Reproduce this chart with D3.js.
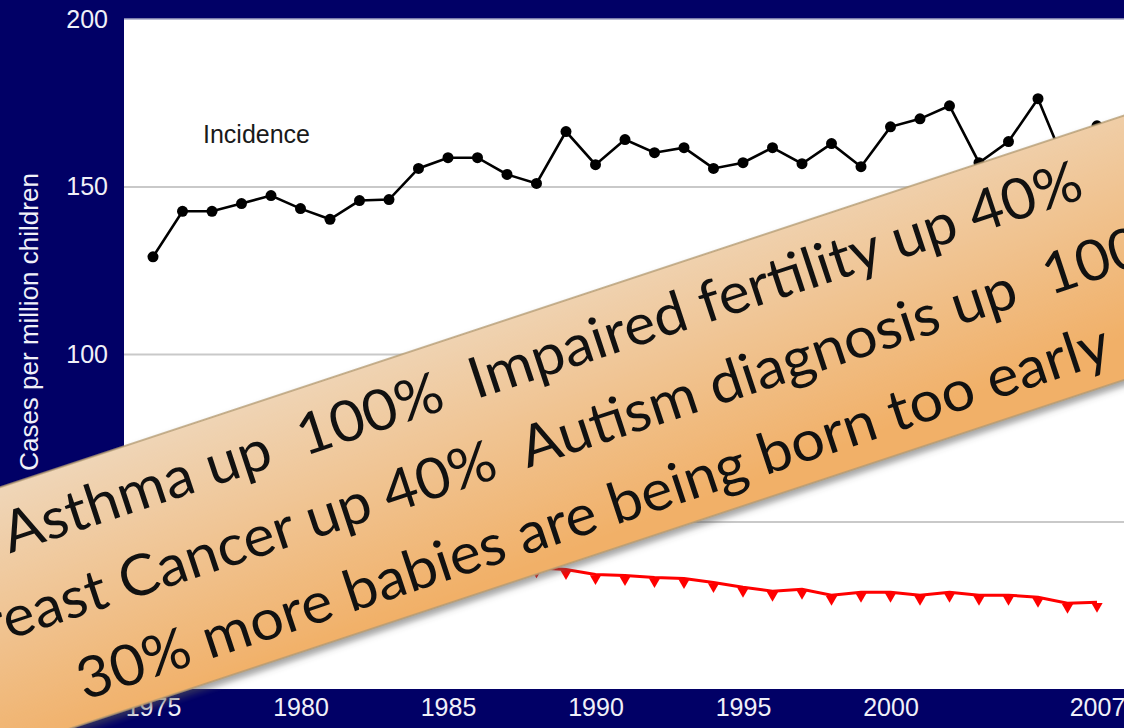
<!DOCTYPE html>
<html>
<head>
<meta charset="utf-8">
<script src="https://cdn.jsdelivr.net/npm/d3@7"></script>
<style>
    html, body { margin: 0; padding: 0; background: #010066; overflow: hidden; }
    svg { display: block; }
    .axis text { font-family: "Liberation Sans", Arial, sans-serif; fill: #f0f0f8; }
    .axis path, .axis line { display: none; }
    .grid line { stroke: #c9c9c9; stroke-width: 2; }
    .grid path { display: none; }
    .banner text { font-family: Lato, "Open Sans", sans-serif; fill: #111; white-space: pre; }
</style>
</head>
<body>
<svg class="chart" width="1124" height="728"></svg>
<script>

// years on the x axis
var years = [1975, 1976, 1977, 1978, 1979, 1980, 1981, 1982, 1983, 1984, 1985, 1986, 1987, 1988, 1989, 1990,
    1991, 1992, 1993, 1994, 1995, 1996, 1997, 1998, 1999, 2000, 2001, 2002, 2003, 2004, 2005, 2006, 2007];

// cases per million children
var incidence = [129, 142.6, 142.6, 144.9, 147.3, 143.4, 140.2, 145.8, 146.1, 155.4, 158.6, 158.6, 153.6, 150.9, 166.4, 156.5,
    164, 160.1, 161.6, 155.4, 157.1, 161.6, 156.8, 162.8, 155.9, 167.8, 170.2, 174.1, 157.1, 163.4, 176.2, 155, 168.1];

// deaths per million children (1975-1987 sit under the banner)
var mortality = [49, 47.5, 46, 45, 44, 43, 42, 41, 40, 39, 38.5, 37.5, 37, 36.2, 35.7, 34.2,
    33.9, 33.3, 33.0, 31.8, 30.4, 29.2, 29.8, 28.0, 28.9, 28.9, 28.0, 28.9, 28.0, 28.0, 27.4, 25.6, 25.9];

var yTicks = [0, 50, 100, 150, 200];
var xTicks = [1975, 1980, 1985, 1990, 1995, 2000, 2007];
var yLabel = "Cases per million children";
var seriesLabel = "Incidence";

var bannerLines = [
    "Asthma up  100%  Impaired fertility up 40%",
    "Breast Cancer up 40%  Autism diagnosis up  100%",
    "30% more babies are being born too early"
];

var svg = d3.select("svg.chart"),
    W = +svg.attr("width"),
    H = +svg.attr("height"),
    plot = {left: 124, top: 19, bottom: 689};

var x = d3.scaleLinear().domain([1975, 2007]).range([153, 1097]),
    y = d3.scaleLinear().domain([0, 200]).range([plot.bottom, plot.top]);

// white plotting area
svg.append("rect")
    .attr("x", plot.left)
    .attr("y", plot.top)
    .attr("width", W - plot.left + 2)
    .attr("height", plot.bottom - plot.top)
    .attr("fill", "#fff");

svg.append("line")
    .attr("x1", plot.left).attr("x2", W)
    .attr("y1", plot.top).attr("y2", plot.top)
    .attr("stroke", "#a4a6c4").attr("stroke-width", 1.5);

svg.append("g")
    .attr("class", "grid")
    .attr("transform", "translate(" + plot.left + ",0)")
    .call(d3.axisLeft(y).tickValues([50, 100, 150]).tickSize(-(W - plot.left)).tickFormat(""));

svg.append("g")
    .attr("class", "axis axis--y")
    .attr("transform", "translate(" + (plot.left - 4) + ",0)")
    .call(d3.axisLeft(y).tickValues(yTicks).tickSize(0).tickPadding(12))
    .selectAll("text")
    .style("font-size", "25px");

svg.append("g")
    .attr("class", "axis axis--x")
    .attr("transform", "translate(0," + plot.bottom + ")")
    .call(d3.axisBottom(x).tickValues(xTicks).tickFormat(d3.format("d")).tickSize(0).tickPadding(9))
    .selectAll("text")
    .style("font-size", "25px");

svg.append("text")
    .attr("class", "axis")
    .attr("transform", "translate(38,322) rotate(-90)")
    .attr("text-anchor", "middle")
    .style("font-size", "26px")
    .style("font-family", "'Liberation Sans', Arial, sans-serif")
    .attr("fill", "#f0f0f8")
    .text(yLabel);

svg.append("text")
    .attr("x", 203)
    .attr("y", 143)
    .style("font-size", "25px")
    .style("font-family", "'Liberation Sans', Arial, sans-serif")
    .attr("fill", "#1a1a1a")
    .text(seriesLabel);

var incData = years.map(function(d, i) { return {year: d, value: incidence[i]}; }),
    morData = years.map(function(d, i) { return {year: d, value: mortality[i]}; });

var line = d3.line()
    .x(function(d) { return x(d.year); })
    .y(function(d) { return y(d.value); });

svg.append("path")
    .datum(morData)
    .attr("d", line)
    .attr("fill", "none")
    .attr("stroke", "#ff0000")
    .attr("stroke-width", 3);

svg.selectAll("path.tri")
    .data(morData)
    .enter().append("path")
    .attr("class", "tri")
    .attr("d", d3.symbol().type(d3.symbolTriangle).size(55))
    .attr("transform", function(d) {
        return "translate(" + x(d.year) + "," + (y(d.value) + 4) + ") rotate(180)";
    })
    .attr("fill", "#ff0000");

svg.append("path")
    .datum(incData)
    .attr("d", line)
    .attr("fill", "none")
    .attr("stroke", "#000")
    .attr("stroke-width", 2.6);

svg.selectAll("circle.inc")
    .data(incData)
    .enter().append("circle")
    .attr("class", "inc")
    .attr("cx", function(d) { return x(d.year); })
    .attr("cy", function(d) { return y(d.value); })
    .attr("r", 5.5)
    .attr("fill", "#000");

// the tilted banner laid over the chart
var defs = svg.append("defs");

var grad = defs.append("linearGradient")
    .attr("id", "bannerFill")
    .attr("x1", 0).attr("y1", 0)
    .attr("x2", 0.35).attr("y2", 1);
grad.append("stop").attr("offset", "0%").attr("stop-color", "#efd8bd");
grad.append("stop").attr("offset", "100%").attr("stop-color", "#f1b068");

var shadow = defs.append("filter")
    .attr("id", "bannerShadow")
    .attr("x", "-10%").attr("y", "-20%")
    .attr("width", "120%").attr("height", "150%");
shadow.append("feDropShadow")
    .attr("dx", 0).attr("dy", 5)
    .attr("stdDeviation", 3)
    .attr("flood-color", "#555")
    .attr("flood-opacity", 0.55);

var banner = svg.append("g")
    .attr("class", "banner")
    .attr("transform", "translate(0,620) rotate(-18.3)");

banner.append("rect")
    .attr("x", -300)
    .attr("y", -126)
    .attr("width", 1800)
    .attr("height", 251)
    .attr("fill", "url(#bannerFill)")
    .attr("stroke", "#b39a72")
    .attr("stroke-width", 1.5)
    .attr("filter", "url(#bannerShadow)");

var baselines = [-60, 21.5, 103],
    targets = [1119, null, 1098];

var texts = banner.selectAll("text.msg")
    .data(bannerLines)
    .enter().append("text")
    .attr("class", "msg")
    .attr("x", 597)
    .attr("y", function(d, i) { return baselines[i]; })
    .attr("text-anchor", "middle")
    .style("font-size", "57px")
    .text(function(d) { return d; });

// stretch the lines to the widths
var natural = [];
texts.each(function() { natural.push(this.getComputedTextLength()); });
var k = (targets[0] / natural[0] + targets[2] / natural[2]) / 2;
texts.attr("textLength", function(d, i) { return natural[i] * k; })
    .attr("lengthAdjust", "spacingAndGlyphs");

</script>
</body>
</html>
